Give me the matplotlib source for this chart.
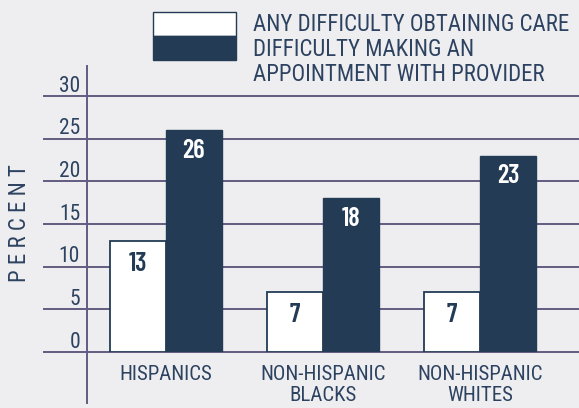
import numpy as np
import matplotlib.pyplot as plt
from matplotlib.patches import Rectangle

groups = ['HISPANICS', 'NON-HISPANIC\nBLACKS', 'NON-HISPANIC\nWHITES']
anyDifficulty = [13, 7, 7]
appointmentDifficulty = [26, 18, 23]
yticks = [0, 5, 10, 15, 20, 25, 30]
legendLabels = ['ANY DIFFICULTY OBTAINING CARE',
                'DIFFICULTY MAKING AN\nAPPOINTMENT WITH PROVIDER']

BG = '#eeeef0'
NAVY = '#233b55'
GRID = '#625d80'
TXT = '#2c4260'
NUMFONT = ['Barlow Condensed', 'Roboto Condensed', 'DejaVu Sans']

plt.rcParams['font.family'] = ['Roboto Condensed', 'DejaVu Sans']

W, H = 579, 408
fig = plt.figure(figsize=(W/100, H/100), dpi=100, facecolor=BG)
# axes box in pixel terms: left 87, right 579, bottom at y=352, top at y=66
ax = fig.add_axes([87/W, (H-352)/H, (W-87)/W, (352-66)/H])
ax.set_facecolor(BG)
ax.set_xlim(-0.503, 2.63)
ax.set_ylim(0, 33.5)
for s in ax.spines.values():
    s.set_visible(False)
ax.set_xticks([])
ax.set_yticks([])

x = np.arange(len(groups))
bw = 0.354

# gridlines run left past the axis line, under the bars
for v in yticks:
    ax.plot([-0.78, 2.63], [v, v], color=GRID, lw=1.4, clip_on=False, zorder=1)
    ax.annotate(str(v), (-0.014, v), xycoords=('axes fraction', 'data'),
                xytext=(0, 3), textcoords='offset points',
                ha='right', va='baseline', fontsize=15.5, color=TXT)

# vertical axis line, extends below zero
ax.plot([-0.503, -0.503], [-6.0, 33.5], color=GRID, lw=1.4, clip_on=False, zorder=1)

ax.bar(x - bw/2, anyDifficulty, bw, color='white', edgecolor=NAVY, lw=1.3, zorder=3)
ax.bar(x + bw/2, appointmentDifficulty, bw, color=NAVY, edgecolor=NAVY, lw=1.0, zorder=3)

for xi, v in zip(x - bw/2, anyDifficulty):
    ax.annotate(str(v), (xi, v), xytext=(0, -21.5), textcoords='offset points',
                ha='center', va='baseline', fontsize=19, fontweight='semibold',
                family=NUMFONT, color=NAVY)
for xi, v in zip(x + bw/2, appointmentDifficulty):
    ax.annotate(str(v), (xi, v), xytext=(0, -20), textcoords='offset points',
                ha='center', va='baseline', fontsize=19, fontweight='semibold',
                family=NUMFONT, color='white')

for xi, g in zip(x, groups):
    ax.annotate(g, (xi, 0), xytext=(0, -9), textcoords='offset points',
                ha='center', va='top', fontsize=15, color=TXT, linespacing=1.15)

fig.text(20/W, 1 - 223/H, 'P E R C E N T', rotation=90, ha='center', va='center',
         fontsize=16.5, color=TXT)

# legend swatch: white top half, navy bottom half
fig.patches.append(Rectangle((153/W, 1 - 36/H), 83/W, 24/H, transform=fig.transFigure,
                             facecolor='white', edgecolor=NAVY, lw=1.0))
fig.patches.append(Rectangle((153/W, 1 - 60/H), 83/W, 24/H, transform=fig.transFigure,
                             facecolor=NAVY, edgecolor=NAVY, lw=1.0))
fig.text(253/W, 1 - 31/H, legendLabels[0], ha='left', va='baseline', fontsize=16.5, color=TXT)
fig.text(253/W, 1 - 38/H, legendLabels[1], ha='left', va='top', fontsize=16.5, color=TXT,
         linespacing=1.12)

fig.savefig('out.png', dpi=100, facecolor=BG)
